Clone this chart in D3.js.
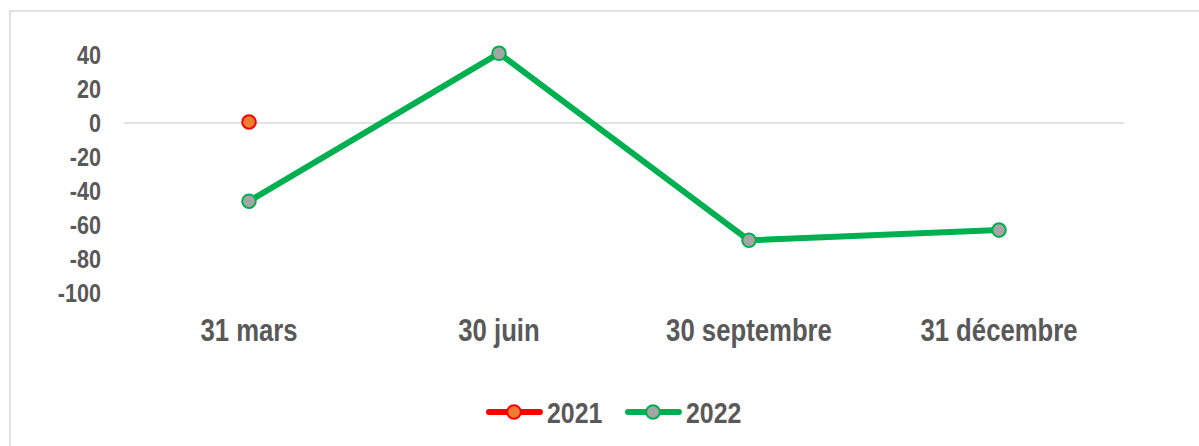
<!DOCTYPE html>
<html>
<head>
<meta charset="utf-8">
<script src="https://cdn.jsdelivr.net/npm/d3@7"></script>
<style>
  body { margin: 0; background: #fff; }
  svg text { font-family: "Liberation Sans", Arial, sans-serif; font-weight: bold; fill: #595959; }
</style>
</head>
<body>
<svg id="chart" width="1199" height="446"></svg>
<script>
const categories = ["31 mars", "30 juin", "30 septembre", "31 décembre"];
const values2021 = [0, null, null, null];
const values2022 = [-46, 41, -69, -63];
const yTicks = [40, 20, 0, -20, -40, -60, -80, -100];
const seriesNames = ["2021", "2022"];

// narrow bold look: squeeze the text horizontally
const squeeze = "scale(0.83,1)";

const svg = d3.select("#chart");

// chart area border
svg.append("rect")
  .attr("x", 10).attr("y", 11)
  .attr("width", 1250).attr("height", 500)
  .attr("fill", "none")
  .attr("stroke", "#d9d9d9")
  .attr("stroke-width", 1.5);

const x = d3.scaleBand().domain(categories).range([124, 1124]);
const y = d3.scaleLinear().domain([-100, 40]).range([293, 55]);

// zero line
svg.append("line")
  .attr("x1", 124).attr("x2", 1124)
  .attr("y1", y(0)).attr("y2", y(0))
  .attr("stroke", "#d9d9d9").attr("stroke-width", 1.5);

// Y axis labels
const yAxis = svg.append("g")
  .attr("transform", "translate(101,0)")
  .call(d3.axisLeft(y).tickValues(yTicks).tickFormat(d => String(d)).tickSize(0).tickPadding(0));
yAxis.select(".domain").remove();
yAxis.selectAll("text")
  .attr("font-size", 26).attr("fill", "#595959")
  .attr("x", 0).attr("transform", squeeze);

// X axis labels
const xAxis = svg.append("g")
  .attr("transform", "translate(0,309)")
  .call(d3.axisBottom(x).tickSize(0).tickPadding(10));
xAxis.select(".domain").remove();
xAxis.selectAll("text")
  .attr("font-size", 31).attr("fill", "#595959")
  .attr("transform", squeeze);

const cx = d => x(d) + x.bandwidth() / 2;

// 2022 line
const pts2022 = categories.map((c, i) => ({ c: c, v: values2022[i] })).filter(d => d.v !== null);
svg.append("path")
  .datum(pts2022)
  .attr("fill", "none")
  .attr("stroke", "#00b050")
  .attr("stroke-width", 6)
  .attr("stroke-linejoin", "round")
  .attr("d", d3.line().x(d => cx(d.c)).y(d => y(d.v)));

svg.selectAll(".m2022")
  .data(pts2022)
  .enter().append("circle")
  .attr("cx", d => cx(d.c)).attr("cy", d => y(d.v))
  .attr("r", 6.8)
  .attr("fill", "#a5a5a5").attr("stroke", "#00b050").attr("stroke-width", 2);

// 2021 point
const pts2021 = categories.map((c, i) => ({ c: c, v: values2021[i] })).filter(d => d.v !== null);
svg.selectAll(".m2021")
  .data(pts2021)
  .enter().append("circle")
  .attr("cx", d => cx(d.c)).attr("cy", d => y(d.v) - 1)
  .attr("r", 6.8)
  .attr("fill", "#ed7d31").attr("stroke", "#ff0000").attr("stroke-width", 2);

// legend
const legendItems = [
  { name: seriesNames[0], x: 487, line: "#ff0000", fill: "#ed7d31" },
  { name: seriesNames[1], x: 626, line: "#00b050", fill: "#a5a5a5" }
];
const lg = svg.selectAll(".lg").data(legendItems).enter().append("g")
  .attr("transform", d => "translate(" + d.x + ",412)");
lg.append("line")
  .attr("x1", 2).attr("x2", 53)
  .attr("stroke", d => d.line).attr("stroke-width", 6).attr("stroke-linecap", "round");
lg.append("circle")
  .attr("cx", 27).attr("r", 6.8)
  .attr("fill", d => d.fill).attr("stroke", d => d.line).attr("stroke-width", 2);
lg.append("text")
  .attr("transform", "translate(60,11) " + squeeze)
  .attr("font-size", 30)
  .text(d => d.name);
</script>
</body>
</html>
